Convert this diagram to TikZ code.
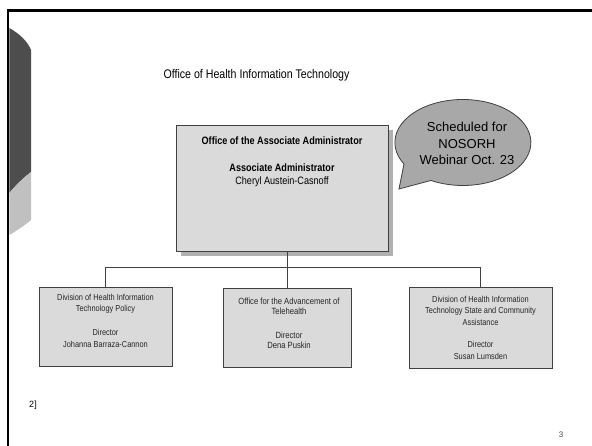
\documentclass[tikz,border=0pt]{standalone}
\usepackage{fontspec}
\setmainfont{Liberation Sans}
\newfontfamily\narrowfont[FakeStretch=0.85]{Liberation Sans}
\definecolor{boxfill}{HTML}{DADADA}
\definecolor{boxline}{HTML}{404040}
\definecolor{shadowc}{HTML}{B0B0B0}
\definecolor{connline}{HTML}{404040}
\definecolor{darkshape}{HTML}{4D4D4D}
\definecolor{lightshape}{HTML}{C0C0C0}
\definecolor{calloutfill}{HTML}{A8A8A8}
\begin{document}
\begin{tikzpicture}[x=1pt,y=-1pt,
  box/.style={draw=boxline, fill=boxfill, line width=0.8pt, inner sep=0pt},
  conn/.style={draw=connline, line width=0.8pt},
  bigtxt/.style={font=\narrowfont\fontsize{10.7}{13}\selectfont, align=center, inner sep=0pt, text=black},
  smalltxt/.style={font=\narrowfont\fontsize{8.7}{11.7}\selectfont, align=center, inner sep=0pt, text=black!85},
  midtxt/.style={font=\narrowfont\fontsize{9}{9.5}\selectfont, align=center, inner sep=0pt, text=black!85},
  calltxt/.style={font=\fontsize{13}{16.5}\selectfont, align=center, inner sep=0pt, text=black}]
\useasboundingbox (0,0) rectangle (592,446);
\fill[white] (0,0) rectangle (592,446);
% slide decoration
\fill[darkshape] (9.3,28) .. controls (20,34) and (28,42) .. (31,50) -- (31,172) .. controls (22,179) and (15,186) .. (9.3,193) -- cycle;
\fill[lightshape] (9.3,193) .. controls (15,186) and (22,179) .. (31,172) -- (31,220) .. controls (24,226) and (16,231) .. (9.3,235) -- cycle;
\draw[line width=2.6pt] (592,10.5) -- (8,10.5) -- (8,446);
% title
\node[font=\narrowfont\fontsize{12.5}{14}\selectfont, inner sep=0pt] (title) at (256.5,75) {Office of Health Information Technology};
% main box
\fill[shadowc] (181,130) rectangle (393,256);
\node[box, minimum width=212pt, minimum height=126pt] (aa) at (282,188) {};
\node[bigtxt, font=\narrowfont\bfseries\fontsize{10.7}{13}\selectfont] (aat) at (282,141) {Office of the Associate Administrator};
\node[bigtxt] (aan) at (282,175.5) {\bfseries Associate Administrator\\\mdseries Cheryl Austein-Casnoff};
% sub boxes
\node[box, minimum width=133pt, minimum height=79pt] (lb) at (105.5,326.5) {};
\node[box, minimum width=128pt, minimum height=79pt] (mb) at (287,327.5) {};
\node[box, minimum width=143pt, minimum height=81pt] (rb) at (480.5,327.5) {};
\node[smalltxt] (lbt) at (105.5,320.5) {Division of Health Information\\Technology Policy\\[11.7pt]Director\\Johanna Barraza-Cannon};
\node[midtxt] (mbt) at (289,323.5) {Office for the Advancement of\\Telehealth\\[15pt]Director\\Dena Puskin};
\node[smalltxt] (rbt) at (480.5,327.5) {Division of Health Information\\Technology State and Community\\Assistance\\[10pt]Director\\Susan Lumsden};
% connectors
\coordinate (bus) at (287,267);
\draw[conn] (mb.north |- aa.south) -- (mb.north);
\draw[conn] (lb.north) -- (lb.north |- bus) -- (rb.north |- bus) -- (rb.north);
% callout
\draw[draw=boxline, fill=calloutfill, line width=0.8pt] (399,189) -- (404,164) arc[start angle=150, end angle=478, x radius=68, y radius=43] -- cycle;
\node[calltxt] (call) at (467,143.5) {Scheduled for\\NOSORH\\Webinar Oct. 23};
% footer
\node[font=\fontsize{9}{10}\selectfont, inner sep=0pt] (fn) at (33,405) {2]};
\node[font=\fontsize{8}{9}\selectfont, inner sep=0pt, text=black!70] (pg) at (561,435) {3};
\end{tikzpicture}
\end{document}
